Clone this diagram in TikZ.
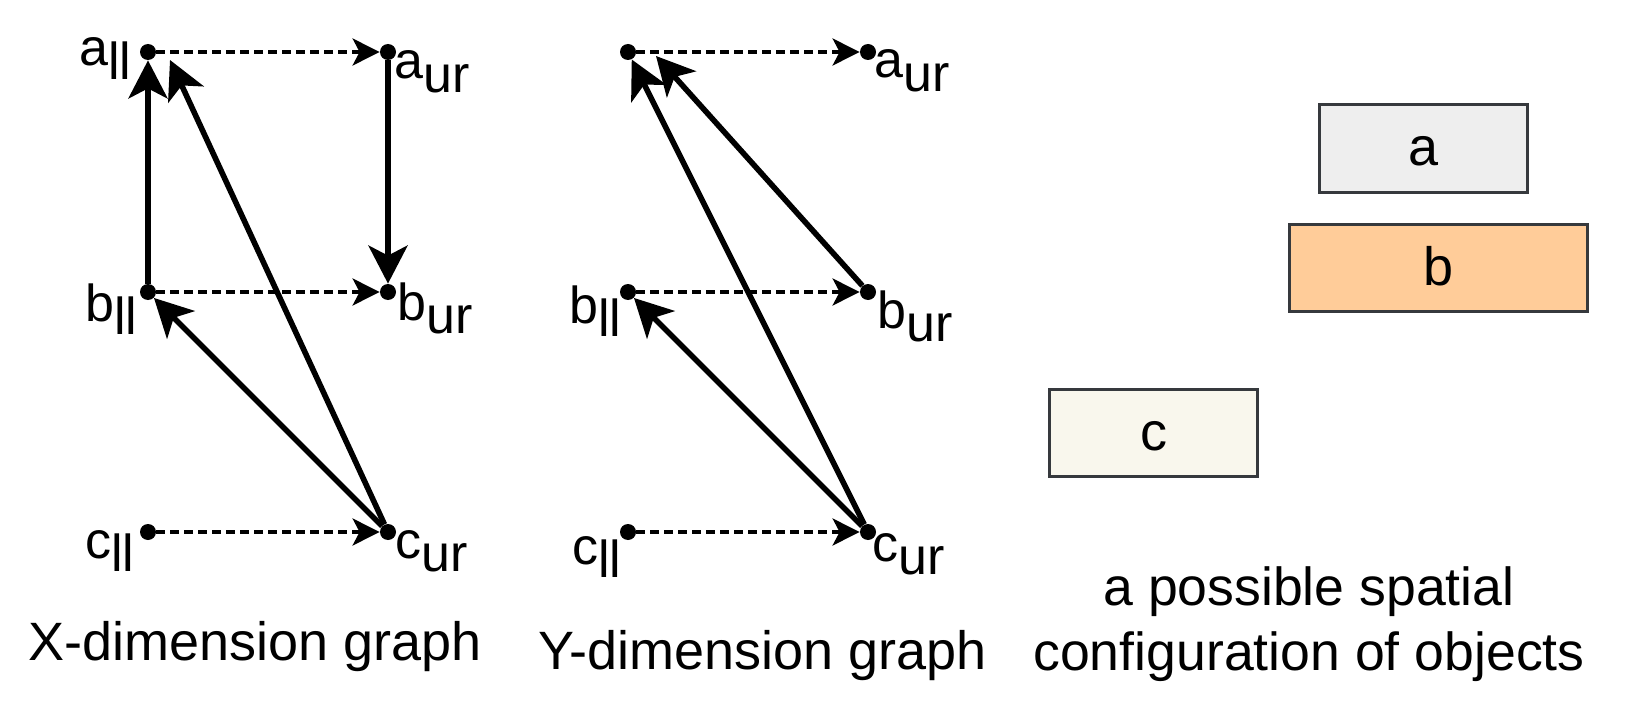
\documentclass[tikz,border=0pt]{standalone}
\usepackage{fontspec}
\setmainfont{Liberation Sans}
\usetikzlibrary{arrows.meta,calc}
\definecolor{afill}{HTML}{EEEEEE}
\definecolor{bfill}{HTML}{FFCC99}
\definecolor{cfill}{HTML}{F9F7ED}
\definecolor{objline}{HTML}{36393D}
\newcommand{\lowsub}[1]{\raisebox{-6.7pt}{#1}}
\begin{document}
\begin{tikzpicture}[x=0.5pt,y=-0.5pt,
  dot/.style={circle,fill=black,inner sep=0pt,minimum size=8pt},
  lbl/.style={anchor=base west,inner sep=0pt,font=\fontsize{26pt}{30pt}\selectfont},
  dasharrow/.style={line width=1.75pt,dash pattern=on 4.5pt off 2.5pt,-{Stealth[length=13.5pt,width=13.5pt,inset=3.5pt]}},
  solidarrow/.style={line width=2.8pt,-{Stealth[length=19pt,width=19.5pt,inset=5pt]}},
  obj/.style={draw=objline,line width=1.5pt,inner sep=0pt,text height=17pt,text depth=0pt,font=\fontsize{27pt}{32pt}\selectfont},
  captext/.style={anchor=base,inner sep=0pt,font=\fontsize{27pt}{32pt}\selectfont},
  cfgtext/.style={anchor=base,inner sep=0pt,font=\fontsize{26.8pt}{32pt}\selectfont}]
\useasboundingbox (0,0) rectangle (1629,717);
\fill[white] (0,0) rectangle (1629,717);

% X-dimension graph
\node[dot] (xall) at (148,52) {};
\node[dot] (xaur) at (388,52) {};
\node[dot] (xbll) at (148,292) {};
\node[dot] (xbur) at (388,292) {};
\node[dot] (xcll) at (148,532) {};
\node[dot] (xcur) at (388,532) {};
\node[lbl] (lxall) at (79,66) {a\lowsub{ll}};
\node[lbl] (lxaur) at (394,79) {a\lowsub{ur}};
\node[lbl] (lxbll) at (85,321) {b\lowsub{ll}};
\node[lbl] (lxbur) at (397,320) {b\lowsub{ur}};
\node[lbl] (lxcll) at (85,558) {c\lowsub{ll}};
\node[lbl] (lxcur) at (395,558) {c\lowsub{ur}};
\draw[dasharrow] (xall) -- (xaur);
\draw[dasharrow] (xbll) -- (xbur);
\draw[dasharrow] (xcll) -- (xcur);
\draw[solidarrow] (xbll) -- (xall);
\draw[solidarrow] (xaur) -- (xbur);
\draw[solidarrow] (xcur) -- (xbll);
\coordinate (xallend) at ($(xall)+(22,8)$);
\draw[solidarrow] (xcur) -- (xallend);

% Y-dimension graph
\node[dot] (yall) at (628,52) {};
\node[dot] (yaur) at (868,52) {};
\node[dot] (ybll) at (628,292) {};
\node[dot] (ybur) at (868,292) {};
\node[dot] (ycll) at (628,532) {};
\node[dot] (ycur) at (868,532) {};
\node[lbl] (lyaur) at (874,78) {a\lowsub{ur}};
\node[lbl] (lybll) at (569,323) {b\lowsub{ll}};
\node[lbl] (lybur) at (877,328) {b\lowsub{ur}};
\node[lbl] (lycll) at (572,564) {c\lowsub{ll}};
\node[lbl] (lycur) at (872,561) {c\lowsub{ur}};
\draw[dasharrow] (yall) -- (yaur);
\draw[dasharrow] (ybll) -- (ybur);
\draw[dasharrow] (ycll) -- (ycur);
\draw[solidarrow] (ycur) -- (yall);
\draw[solidarrow] (ycur) -- (ybll);
\coordinate (yallend) at ($(yall)+(28,4)$);
\draw[solidarrow] (ybur) -- (yallend);

% spatial configuration
\node[obj,fill=afill,minimum width=104.3pt,minimum height=44.2pt] (boxa) at (1423.6,148.3) {a};
\node[obj,fill=bfill,minimum width=148.9pt,minimum height=43.5pt] (boxb) at (1438.2,268.3) {b};
\node[obj,fill=cfill,minimum width=104.25pt,minimum height=43.8pt] (boxc) at (1153.6,433) {c};

% captions
\node[captext] (capx) at (254.8,660) {X-dimension graph};
\node[captext] (capy) at (762.5,669) {Y-dimension graph};
\node[cfgtext] (cfg1) at (1309,605) {a possible spatial};
\node[cfgtext] (cfg2) at (1309,670) {configuration of objects};
\end{tikzpicture}
\end{document}
